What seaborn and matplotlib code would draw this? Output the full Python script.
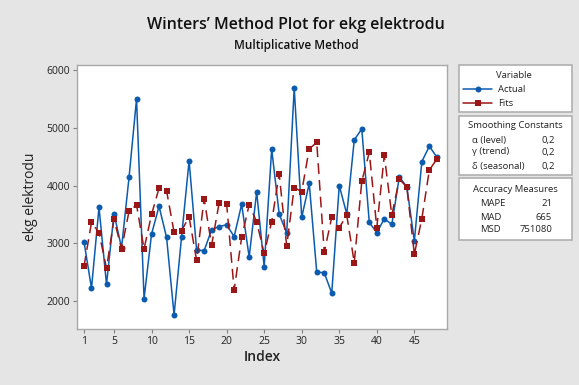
import numpy as np
import pandas as pd
import matplotlib
matplotlib.use("Agg")
import matplotlib.pyplot as plt
from matplotlib.lines import Line2D
from matplotlib.patches import Rectangle
import seaborn as sns

# Series values
index = list(range(1, 49))
actual = [3030, 2220, 3620, 2290, 3515, 2920, 4140, 5500, 2040, 3160,
          3640, 3100, 1760, 3115, 4430, 2885, 2870, 3235, 3290, 3320,
          3115, 3675, 2760, 3890, 2595, 4630, 3505, 3175, 5690, 3450,
          4035, 2500, 2490, 2135, 4000, 3505, 4790, 4980, 3360, 3185,
          3425, 3325, 4150, 3975, 3040, 4415, 4680, 4490]
fits = [2600, 3360, 3185, 2565, 3415, 2900, 3555, 3665, 2900, 3500,
        3955, 3910, 3190, 3220, 3455, 2705, 3770, 2965, 3700, 3680,
        2190, 3100, 3670, 3370, 2825, 3375, 4200, 2955, 3965, 3895,
        4635, 4745, 2845, 3450, 3270, 3485, 2665, 4070, 4575, 3270,
        4520, 3485, 4110, 3975, 2810, 3425, 4270, 4455]

xticks = [1, 5, 10, 15, 20, 25, 30, 35, 40, 45]
yticks = [2000, 3000, 4000, 5000, 6000]

title = "Winters\u2019 Method Plot for ekg elektrodu"
subtitle = "Multiplicative Method"

smoothing = [("\u03b1 (level)", "0,2"), ("\u03b3 (trend)", "0,2"), ("\u03b4 (seasonal)", "0,2")]
accuracy = [("MAPE", "21"), ("MAD", "665"), ("MSD", "751080")]

BLUE = "#0B5BAE"
RED = "#9B1616"
BG = "#E5E5E5"

sns.set_theme(style="white")
plt.rcParams["font.family"] = ["Open Sans", "DejaVu Sans"]

df = pd.DataFrame({
    "Index": index * 2,
    "value": actual + fits,
    "Variable": ["Actual"] * len(index) + ["Fits"] * len(index),
})

W, H = 579, 385
fig = plt.figure(figsize=(W / 100, H / 100), dpi=100, facecolor=BG)

def fx(px):
    return px / W

def fy(py):
    return 1 - py / H

ax = fig.add_axes([fx(77), fy(329), fx(447) - fx(77), fy(65) - fy(329)])
ax.set_facecolor("white")

sns.lineplot(data=df[df.Variable == "Actual"], x="Index", y="value", ax=ax,
             color=BLUE, linewidth=1.1, marker="o", markersize=4.3,
             markeredgewidth=0, legend=False)
sns.lineplot(data=df[df.Variable == "Fits"], x="Index", y="value", ax=ax,
             color=RED, linewidth=1.1, linestyle=(0, (7, 4)), marker="s",
             markersize=4.8, markeredgewidth=0, legend=False)

ax.set_xlim(0.07, 49.35)
ax.set_ylim(1515, 6087)
ax.set_xticks(xticks)
ax.set_yticks(yticks)
ax.tick_params(axis="both", which="both", direction="out", length=3, width=0.8,
               color="#7f7f7f", labelsize=7.5, labelcolor="#222222", pad=2,
               bottom=True, left=True)
for sp in ax.spines.values():
    sp.set_color("#a8a8a8")
    sp.set_linewidth(1.0)
ax.set_xlabel("Index", fontsize=10, fontweight="semibold", color="#222222", labelpad=2)
ax.set_ylabel("ekg elektrodu", fontsize=10, fontweight="medium", color="#222222", labelpad=6)

fig.text(fx(296), fy(25), title, ha="center", va="center", fontsize=11.5,
         fontweight="semibold", color="#111111")
fig.text(fx(296), fy(46), subtitle, ha="center", va="center", fontsize=8.5,
         fontweight="semibold", color="#111111")

def box(y0, y1):
    fig.patches.append(Rectangle((fx(459), fy(y1)), fx(572) - fx(459), fy(y0) - fy(y1),
                                 transform=fig.transFigure, facecolor="white",
                                 edgecolor="#b0b0b0", linewidth=1.2, zorder=0))

fs = 6.8
# Legend box
box(65, 112)
fig.text(fx(514), fy(76), "Variable", ha="center", va="center", fontsize=fs, color="#222222")
for yy, col, mk, lab in [(89, BLUE, "o", "Actual"), (103, RED, "s", "Fits")]:
    fig.lines.append(Line2D([fx(463), fx(492)], [fy(yy), fy(yy)], transform=fig.transFigure,
                            color=col, linewidth=1.1))
    fig.lines.append(Line2D([fx(477.5)], [fy(yy)], transform=fig.transFigure,
                            color=col, marker=mk, markersize=4.8 if mk == "s" else 4.3,
                            markeredgewidth=0, linestyle="none"))
    fig.text(fx(498), fy(yy), lab, ha="left", va="center", fontsize=fs, color="#222222")

# Smoothing constants box
box(116, 175)
fig.text(fx(515), fy(125), "Smoothing Constants", ha="center", va="center", fontsize=fs, color="#222222")
for (lab, val), yy in zip(smoothing, [140, 152, 167]):
    fig.text(fx(472), fy(yy), lab, ha="left", va="center", fontsize=fs, color="#222222")
    fig.text(fx(541), fy(yy), val, ha="left", va="center", fontsize=fs, color="#222222")

# Accuracy measures box
box(178, 240)
fig.text(fx(515), fy(189), "Accuracy Measures", ha="center", va="center", fontsize=fs, color="#222222")
for (lab, val), yy in zip(accuracy, [204, 217, 230]):
    fig.text(fx(480), fy(yy), lab, ha="left", va="center", fontsize=fs, color="#222222")
    fig.text(fx(552), fy(yy), val, ha="right", va="center", fontsize=fs, color="#222222")

fig.savefig("out.png", dpi=100, facecolor=BG)
